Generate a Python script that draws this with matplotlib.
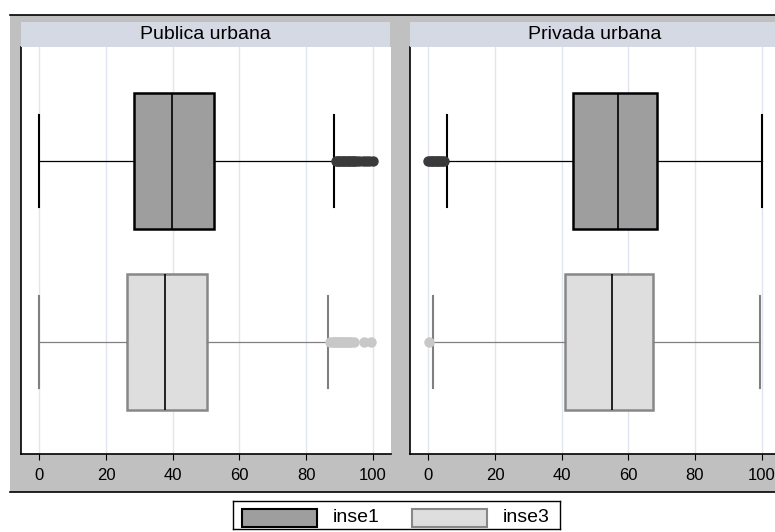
import matplotlib
matplotlib.use("Agg")
import matplotlib.pyplot as plt
from matplotlib.patches import Rectangle
from matplotlib.lines import Line2D

plt.rcParams['font.family'] = ['Liberation Sans', 'DejaVu Sans']

# summary stats (horizontal box plots)
panels = ["Publica urbana", "Privada urbana"]
series = ["inse1", "inse3"]

# per panel: [inse1, inse3]
q1 = [[28.5, 26.3], [43.3, 41.1]]
med = [[39.9, 37.7], [57.0, 55.1]]
q3 = [[52.4, 50.4], [68.7, 67.4]]
whislo = [[0.0, 0.0], [5.5, 1.4]]
whishi = [[88.5, 86.7], [100.0, 99.4]]
fliers = [
    [[89, 89.5, 90, 90.5, 91, 91.5, 92, 92.5, 93, 93.5, 94, 94.5, 95, 96, 97, 98, 99, 100],
     [87.2, 88, 88.5, 89, 89.5, 90, 90.5, 91, 91.5, 92, 92.5, 93, 93.5, 94.3, 97.5, 99.4]],
    [[0, 0.5, 1, 1.5, 2, 2.5, 3, 3.5, 4, 4.6],
     [0.3]],
]
xticks = [0, 20, 40, 60, 80, 100]

W, H = 775, 532
fig = plt.figure(figsize=(W / 100, H / 100), dpi=100)
fig.patch.set_facecolor('white')


def fx(px):
    return px / W


def fy(py):
    return 1 - py / H


# gray graph region with black lines top and bottom
fig.patches.append(Rectangle((fx(10), fy(492)), fx(800) - fx(10), fy(15) - fy(492),
                             transform=fig.transFigure, facecolor='#c0c0c0',
                             edgecolor='none', zorder=-5))
fig.lines.append(Line2D([fx(10), 1], [fy(15), fy(15)], transform=fig.transFigure,
                        color='black', lw=1.2, zorder=-4))
fig.lines.append(Line2D([fx(10), 1], [fy(492), fy(492)], transform=fig.transFigure,
                        color='black', lw=1.2, zorder=-4))

styles = [
    dict(face='#9e9e9e', edge='black', whisk='black', med='black', flier='#3a3a3a'),
    dict(face='#dedede', edge='#888888', whisk='#808080', med='black', flier='#c8c8c8'),
]

lefts = [21, 410]
pw = 370
for p, name in enumerate(panels):
    ax = fig.add_axes([fx(lefts[p]), fy(454), pw / W, (454 - 47) / H])
    ax.set_facecolor('white')
    for i, s in enumerate(series):
        st = styles[i]
        stats = [dict(med=med[p][i], q1=q1[p][i], q3=q3[p][i],
                      whislo=whislo[p][i], whishi=whishi[p][i],
                      fliers=fliers[p][i], label=s)]
        ax.bxp(stats, positions=[i + 1], widths=0.75, capwidths=0.51,
               vert=False, patch_artist=True, manage_ticks=False,
               boxprops=dict(facecolor=st['face'], edgecolor=st['edge'], linewidth=1.8),
               medianprops=dict(color=st['med'], linewidth=1.2),
               whiskerprops=dict(color=st['whisk'], linewidth=0.9),
               capprops=dict(color=st['whisk'], linewidth=1.5),
               flierprops=dict(marker='o', markersize=6.5, markerfacecolor=st['flier'],
                               markeredgecolor=st['flier'], linestyle='none'))
    ax.set_xlim(-5.5, 105.5)
    ax.set_ylim(2.621, 0.371)
    ax.set_yticks([])
    ax.set_xticks(xticks)
    ax.tick_params(axis='x', length=4.5, width=0.8, pad=5.5, labelsize=12, color='black')
    ax.grid(axis='x', color='#e1e5ef', linewidth=1.0, zorder=0)
    ax.set_axisbelow(True)
    for sp in ['top', 'right']:
        ax.spines[sp].set_visible(False)
    ax.spines['left'].set_linewidth(1.2)
    ax.spines['bottom'].set_linewidth(1.2)

    # strip title
    sax = fig.add_axes([fx(lefts[p]), fy(47), (pw - 1) / W, 25 / H])
    sax.set_facecolor('#d4d9e4')
    sax.set_xticks([])
    sax.set_yticks([])
    for sp in sax.spines.values():
        sp.set_visible(False)
    sax.text(0.5, 0.5, name, ha='center', va='center', fontsize=14,
             transform=sax.transAxes)

# legend box
lax = fig.add_axes([fx(233), fy(529), (560 - 233) / W, (529 - 501) / H])
lax.set_xlim(233, 560)
lax.set_ylim(529, 501)
lax.set_xticks([])
lax.set_yticks([])
for sp in lax.spines.values():
    sp.set_linewidth(1.0)
leg_x = [242, 412]
for i, s in enumerate(series):
    st = styles[i]
    lax.add_patch(Rectangle((leg_x[i], 509), 75, 18, facecolor=st['face'],
                            edgecolor=st['edge'], linewidth=1.5))
    lax.text(leg_x[i] + 91, 517, s, ha='left', va='center', fontsize=14)

fig.savefig('out.png', dpi=100)
